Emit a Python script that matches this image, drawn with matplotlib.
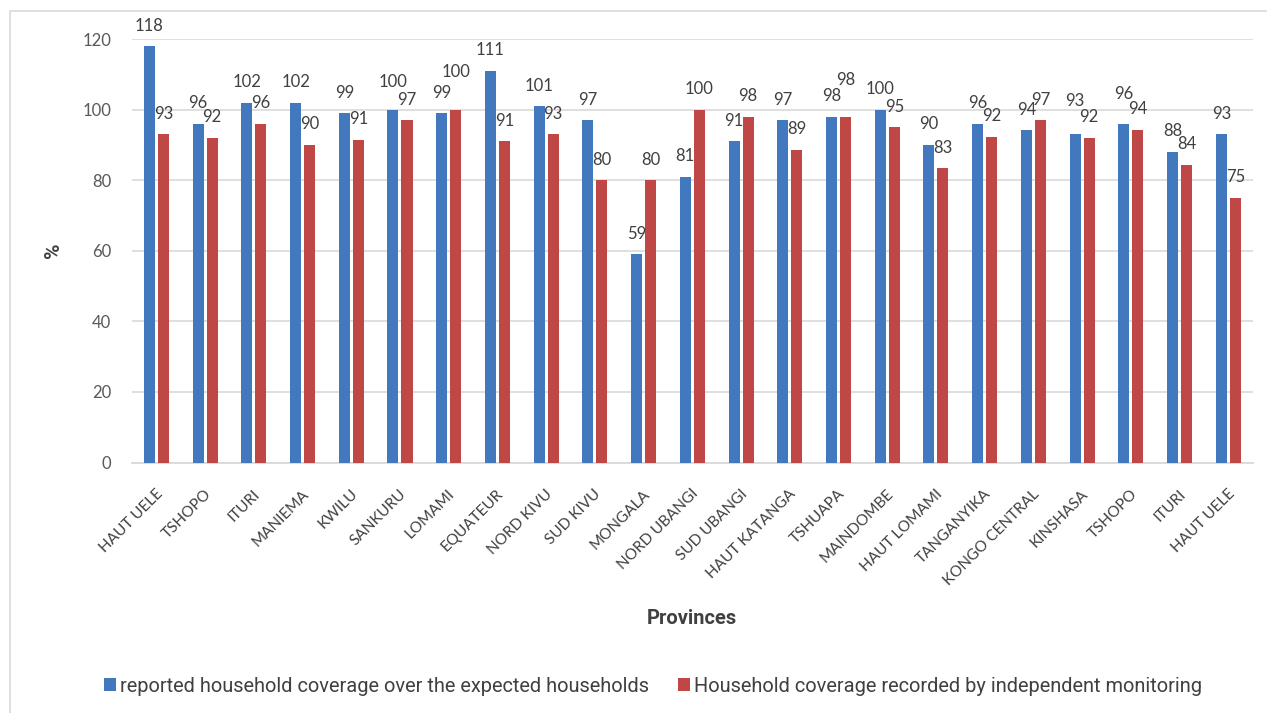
import matplotlib
matplotlib.use("Agg")
import matplotlib.pyplot as plt
import numpy as np
from matplotlib.patches import Rectangle
from matplotlib.transforms import ScaledTranslation

provinces = ["HAUT UELE", "TSHOPO", "ITURI", "MANIEMA", "KWILU", "SANKURU", "LOMAMI",
             "EQUATEUR", "NORD KIVU", "SUD KIVU", "MONGALA", "NORD UBANGI", "SUD UBANGI",
             "HAUT KATANGA", "TSHUAPA", "MAINDOMBE", "HAUT LOMAMI", "TANGANYIKA",
             "KONGO CENTRAL", "KINSHASA", "TSHOPO", "ITURI", "HAUT UELE"]
reported = [118, 96, 102, 102, 99, 100, 99, 111, 101, 97, 59, 81, 91, 97, 98, 100, 90,
            96, 94.2, 93, 96, 88, 93]
monitoring = [93, 92, 96, 90, 91.4, 97, 100, 91, 93, 80, 80, 100, 98, 88.6, 98, 95, 83.4,
              92.3, 97, 92, 94.3, 84.4, 75]
series_names = ["reported household coverage over the expected households",
                "Household coverage recorded by independent monitoring"]
yticks = [0, 20, 40, 60, 80, 100, 120]

# extra upward nudges (pixels) of some data labels, as placed in the original to avoid overlap
nudge_reported = {5: 7, 19: 13, 20: 9}
nudge_monitoring = {6: 17, 14: 16}

W, H = 1267, 713
fig = plt.figure(figsize=(W / 100, H / 100), dpi=100)
fig.patch.set_facecolor("white")

# chart border
fig.add_artist(Rectangle((10 / W, -0.05), 1.2, 1 - 11 / H + 0.05, transform=fig.transFigure,
                         fill=False, edgecolor="#D9D9D9", linewidth=1.2))

ax = fig.add_axes([132 / W, 1 - 462.5 / H, (1252.7 - 132) / W, (462.5 - 39) / H])

BLUE = "#4279BE"
RED = "#BF4745"
num_font = ["Lato", "DejaVu Sans"]
narrow = ["Roboto", "DejaVu Sans"]

x = np.arange(len(provinces))
bw = 0.226
off = 0.1437
b1 = ax.bar(x - off, reported, bw, color=BLUE, label=series_names[0], zorder=3)
b2 = ax.bar(x + off, monitoring, bw, color=RED, label=series_names[1], zorder=3)

for bars, vals, nudges in ((b1, reported, nudge_reported), (b2, monitoring, nudge_monitoring)):
    for i, (rect, v) in enumerate(zip(bars, vals)):
        dy = (15.5 + nudges.get(i, 0)) * 0.72
        ax.annotate(f"{v:.0f}", (rect.get_x() + rect.get_width() / 2, v),
                    xytext=(0, dy), textcoords="offset points", ha="center", va="baseline",
                    fontsize=12, family=num_font, color="#404040", clip_on=False, zorder=4)

ax.set_xlim(-0.5, len(provinces) - 0.5)
ax.set_ylim(0, 120)
ax.set_yticks(yticks)
ax.set_yticklabels([str(t) for t in yticks], family=num_font, fontsize=12, color="#595959")
ax.yaxis.grid(True, color="#D9D9D9", linewidth=1.2, zorder=0)
ax.tick_params(axis="y", length=0, pad=15)
ax.tick_params(axis="x", length=0, pad=21)
for s in ("top", "right", "left"):
    ax.spines[s].set_visible(False)
ax.spines["bottom"].set_color("#D9D9D9")
ax.spines["bottom"].set_linewidth(1.3)
ax.spines["bottom"].set_zorder(2)

ax.set_xticks(x)
ax.set_xticklabels(provinces, rotation=45, ha="right", va="center", rotation_mode="anchor",
                   family=num_font, fontsize=11, color="#404040")
shift = ScaledTranslation(4 / 100, 0, fig.dpi_scale_trans)
for lab in ax.get_xticklabels():
    lab.set_transform(lab.get_transform() + shift)

fig.text(692 / W, 1 - 619 / H, "Provinces", ha="center", va="center", fontsize=14.5,
         fontweight="bold", family=narrow, color="#404040")
fig.text(54 / W, 1 - 250 / H, "%", ha="center", va="center", rotation=90, fontsize=15,
         fontweight="bold", family=narrow, color="#404040")

FS = 14.4
F = FS * 100 / 72
leg = fig.legend(handles=[b1, b2], labels=series_names, ncol=2, loc="center",
                 bbox_to_anchor=(653 / W, 1 - 686 / H), frameon=False,
                 prop={"family": narrow, "size": FS},
                 handlelength=12 / F, handleheight=12 / F, handletextpad=4.5 / F,
                 columnspacing=28 / F, borderpad=0, borderaxespad=0)
for t in leg.get_texts():
    t.set_color("#404040")

fig.savefig("out.png", dpi=100, facecolor="white")
